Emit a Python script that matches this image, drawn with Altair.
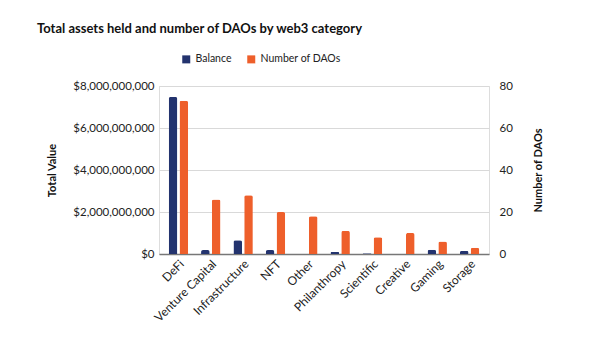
import altair as alt
import pandas as pd

categories = ["DeFi", "Venture Capital", "Infrastructure", "NFT", "Other",
              "Philanthropy", "Scientific", "Creative", "Gaming", "Storage"]
balance = [7.48e9, 0.19e9, 0.66e9, 0.19e9, 0.0, 0.09e9, 0.04e9, 0.0, 0.2e9, 0.14e9]
num_daos = [73, 26, 28, 20, 18, 11, 8, 10, 6, 3]
series = ["Balance", "Number of DAOs"]
colors = ["#23336e", "#ee5f2b"]

rows = []
for c, b, n in zip(categories, balance, num_daos):
    rows.append({"category": c, "series": "Balance", "value": b})
    rows.append({"category": c, "series": "Number of DAOs", "value": n})
df = pd.DataFrame(rows)

FONT = "Lato"

x_enc = alt.X("category:N", sort=categories, title=None,
              scale=alt.Scale(paddingInner=0.4, paddingOuter=0.3),
              axis=alt.Axis(labelAngle=-45, labelFontSize=12, labelColor="#222",
                            labelFont=FONT, ticks=False, domainColor="#777",
                            domainWidth=1.5, labelPadding=4))
xoff = alt.XOffset("series:N", sort=series, scale=alt.Scale(domain=series, paddingInner=0.2))
col = alt.Color("series:N", sort=series,
                scale=alt.Scale(domain=series, range=colors),
                legend=alt.Legend(title=None, orient="none", direction="horizontal",
                                  legendX=22, legendY=-32, symbolType="square",
                                  symbolSize=64, symbolStrokeWidth=0,
                                  labelFontSize=10.5, labelFont=FONT, labelColor="#222",
                                  columnPadding=14))

base = alt.Chart(df)

left = base.transform_filter(alt.datum.series == "Balance").mark_bar(
    cornerRadiusTopLeft=2, cornerRadiusTopRight=2).encode(
    x=x_enc, xOffset=xoff, color=col,
    y=alt.Y("value:Q", title="Total Value",
            scale=alt.Scale(domain=[0, 8e9]),
            axis=alt.Axis(values=[0, 2e9, 4e9, 6e9, 8e9], format="$,.0f",
                          labelFontSize=11.5, labelFont=FONT, labelColor="#222",
                          titleFontSize=11, titleFont=FONT, titleFontWeight="bold",
                          titleColor="#111", titlePadding=15,
                          ticks=False, domain=False, gridColor="#d9d9d9",
                          labelPadding=5)))

right = base.transform_filter(alt.datum.series == "Number of DAOs").mark_bar(
    cornerRadiusTopLeft=2, cornerRadiusTopRight=2).encode(
    x=x_enc, xOffset=xoff, color=col,
    y=alt.Y("value:Q", title="Number of DAOs",
            scale=alt.Scale(domain=[0, 80]),
            axis=alt.Axis(orient="right", values=[0, 20, 40, 60, 80],
                          labelFontSize=11.5, labelFont=FONT, labelColor="#222",
                          titleFontSize=11, titleFont=FONT, titleFontWeight="bold",
                          titleColor="#111", titlePadding=31, titleAngle=270,
                          ticks=False, domain=False, grid=False, labelPadding=10)))

chart = alt.layer(left, right).resolve_scale(y="independent").properties(
    width=330, height=168,
    padding={"left": 37, "top": 23, "right": 10, "bottom": 5},
    title=alt.TitleParams("Total assets held and number of DAOs by web3 category",
                          anchor="start", frame="group", font=FONT, fontSize=13,
                          fontWeight="bold", color="#111", offset=18, dx=-122),
).configure_view(stroke=None).configure(background="white")

chart.save("out.html", embed_options={"renderer": "svg", "actions": False})
